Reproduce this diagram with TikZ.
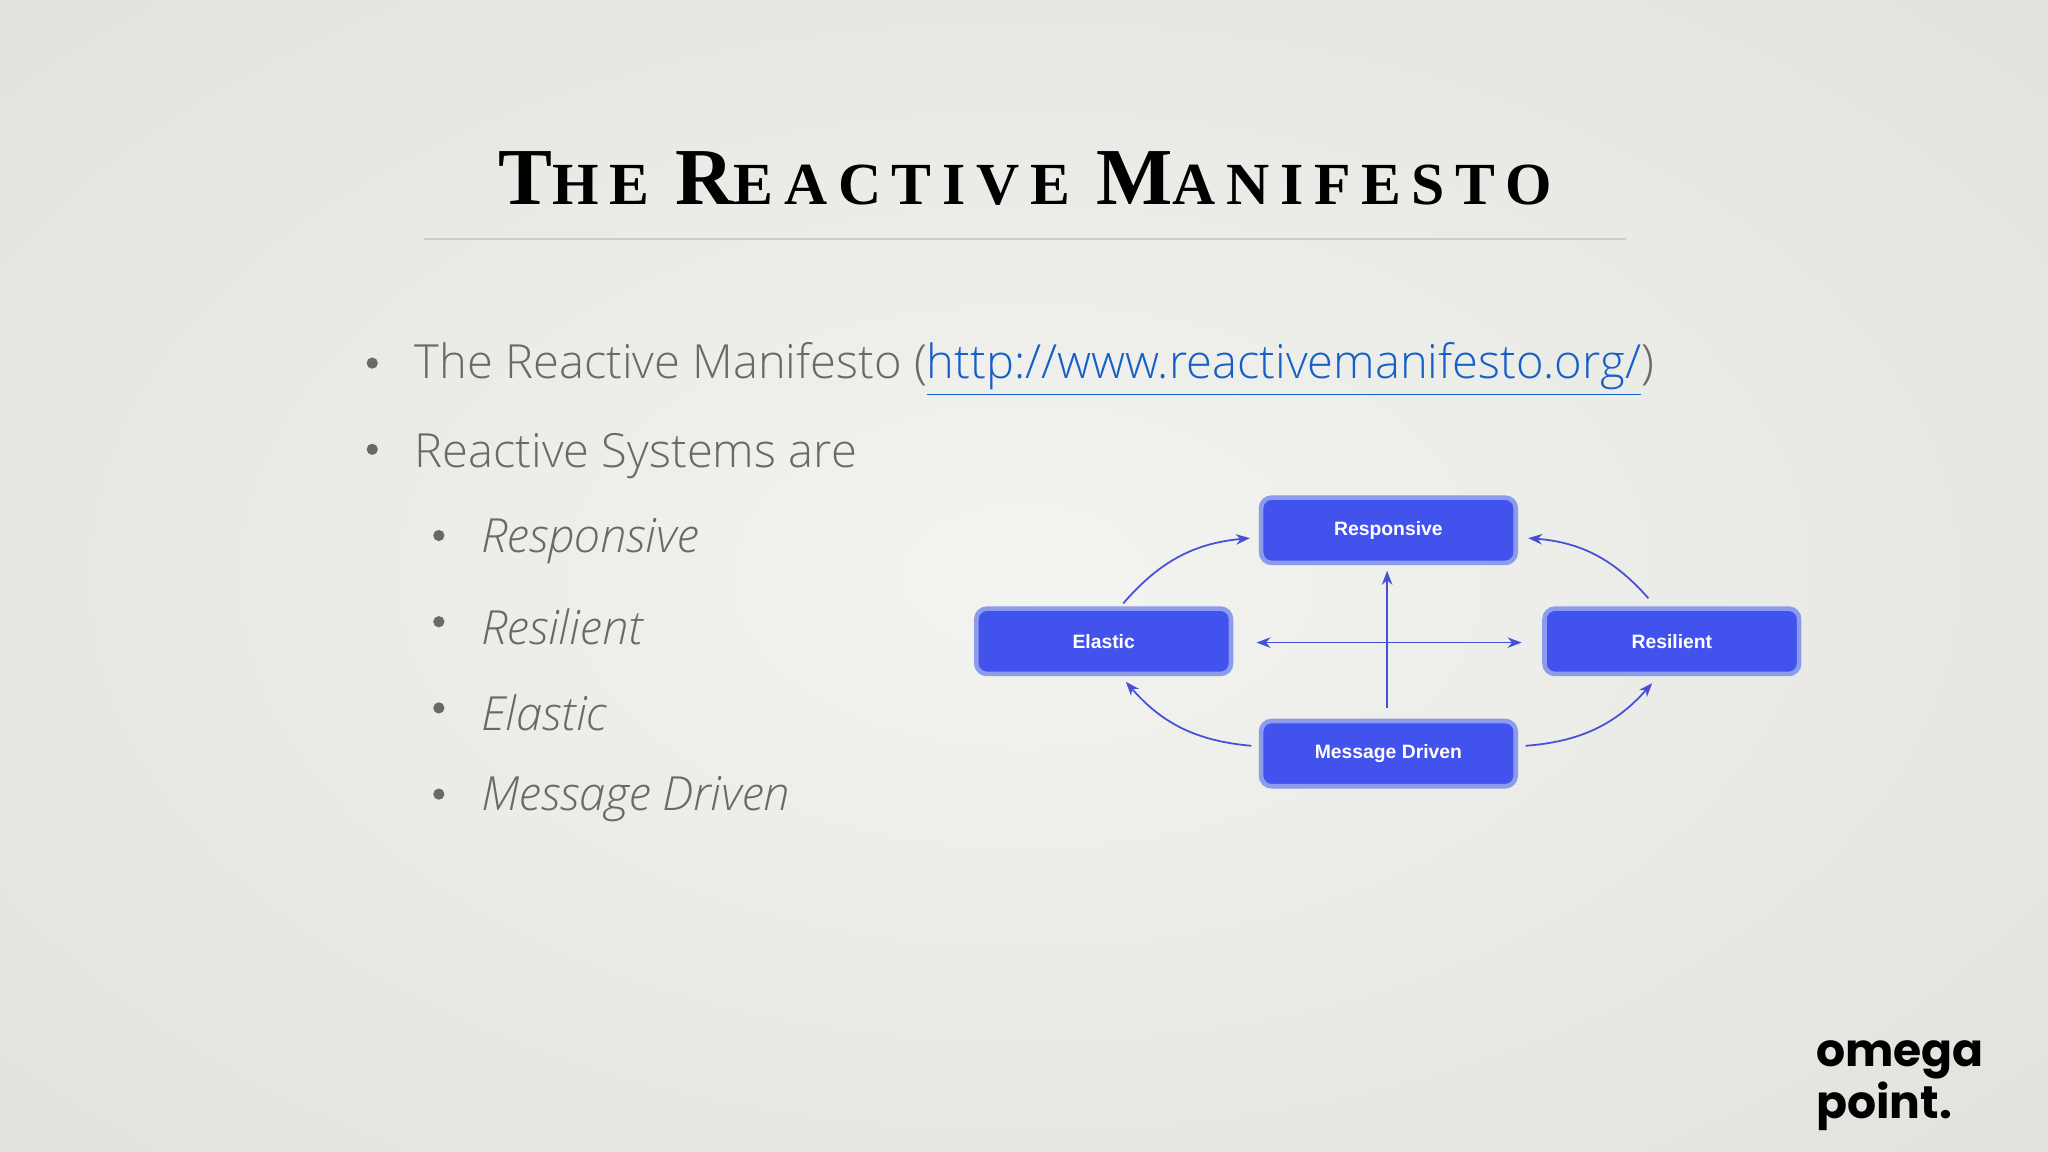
\documentclass[tikz,border=0pt]{standalone}
\usepackage{fontspec}
\setmainfont{Liberation Serif}
\newfontfamily\titlefont{Liberation Serif}[LetterSpace=18]
\newfontfamily\bodyfont{Open Sans Light}[BoldFont=Open Sans]
\newfontfamily\boxfont{Liberation Sans}
\newfontfamily\logofont{Poppins Bold}
\usetikzlibrary{arrows.meta}
\definecolor{bg}{RGB}{243,243,240}
\definecolor{bgo}{RGB}{226,226,221}
\definecolor{txt}{RGB}{105,105,105}
\definecolor{link}{RGB}{20,95,200}
\definecolor{boxfill}{RGB}{66,82,236}
\definecolor{boxline}{RGB}{140,155,235}
\definecolor{arr}{RGB}{70,80,215}
\begin{document}
\begin{tikzpicture}[x=0.01306cm,y=-0.01306cm,
  bul/.style={anchor=west,font=\bodyfont\fontsize{13.4}{16}\selectfont,text=txt,inner sep=0},
  sub/.style={anchor=west,font=\bodyfont\itshape\fontsize{13.4}{16}\selectfont,text=txt,inner sep=0},
  dot/.style={circle,fill=txt,inner sep=0,minimum size=3.2pt},
  rbox/.style={draw=boxline,line width=1.3pt,fill=boxfill,rounded corners=3pt,minimum width=2.547cm,minimum height=0.653cm,text=white,font=\boxfont\bfseries\fontsize{5.5}{7}\selectfont},
  con/.style={draw=arr,line width=0.5pt,-{Stealth[length=4pt,width=3pt]}}]
\useasboundingbox (0,0) rectangle (1568,882);
\shade[inner color=bg,outer color=bgo] (-300,-200) rectangle (1868,1082);
% title
\node (title) at (785,137) {\titlefont\bfseries\fontsize{23}{28}\selectfont T\fontsize{17}{20}\selectfont HE \fontsize{23}{28}\selectfont R\fontsize{17}{20}\selectfont EACTIVE \fontsize{23}{28}\selectfont M\fontsize{17}{20}\selectfont ANIFESTO};
\draw[draw=black!20,line width=0.4pt] (325,183) -- (1245,183);
% bullets
\node[dot] (d1) at (285,278) {};
\node[bul] (b1) at (317,283) {The Reactive Manifesto (\textcolor{link}{\underline{http://www.reactivemanifesto.org/}})};
\node[dot] (d2) at (285,344) {};
\node[bul] (b2) at (317,349) {Reactive Systems are};
\node[dot] (s1) at (336,410) {};
\node[sub] (t1) at (368,414) {Responsive};
\node[dot] (s2) at (336,476) {};
\node[sub] (t2) at (368,480) {Resilient};
\node[dot] (s3) at (336,542) {};
\node[sub] (t3) at (368,546) {Elastic};
\node[dot] (s4) at (336,608) {};
\node[sub] (t4) at (368,612) {Message Driven};
% diagram
\node[rbox] (resp) at (1063,406) {Responsive};
\node[rbox] (elas) at (845,491) {Elastic};
\node[rbox] (resi) at (1280,491) {Resilient};
\node[rbox] (msg) at (1063,577) {Message Driven};
\coordinate (hl) at (962,492);
\coordinate (hr) at (1165,492);
\coordinate (vb) at (1062,542);
\coordinate (vt) at (1062,437);
\coordinate (e1) at (860,462);
\coordinate (r1) at (957,412);
\coordinate (s1a) at (1262,458);
\coordinate (r2) at (1170,412);
\coordinate (m1) at (958,571);
\coordinate (e2) at (862,522);
\coordinate (m2) at (1168,571);
\coordinate (s2a) at (1265,523);
\draw[con,{Stealth[length=4pt,width=3pt]}-{Stealth[length=4pt,width=3pt]}] (hl) -- (hr);
\draw[con] (vb) -- (vt);
\draw[con] (e1) to[bend left=22] (r1);
\draw[con] (s1a) to[bend right=22] (r2);
\draw[con] (m1) to[bend left=22] (e2);
\draw[con] (m2) to[bend right=22] (s2a);
% logo
\node[anchor=north west,inner sep=0,align=left,font=\logofont\fontsize{13}{9.5}\selectfont] (logo) at (1390,796) {omega\\point.};
\end{tikzpicture}
\end{document}
